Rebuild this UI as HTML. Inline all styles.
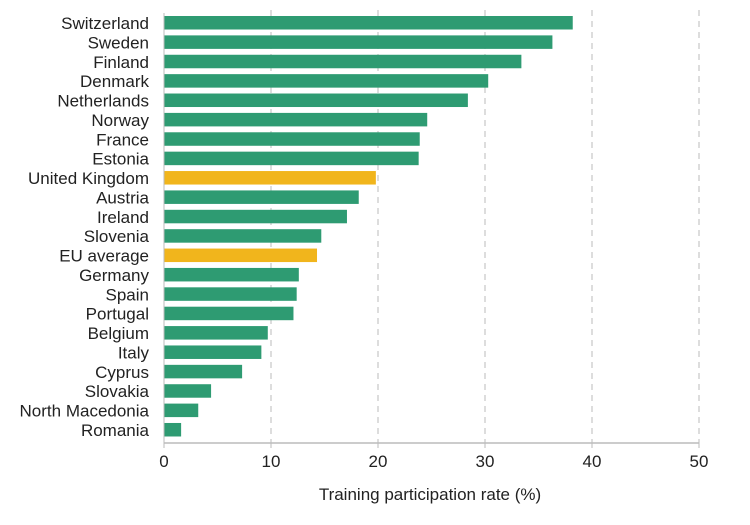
<!DOCTYPE html>
<html><head><meta charset="utf-8"><style>
html,body{margin:0;padding:0;background:#fff;}
svg{display:block;font-family:"Liberation Sans",Arial,sans-serif;}
</style></head><body>
<svg width="750" height="525" viewBox="0 0 750 525" xmlns="http://www.w3.org/2000/svg">
<g stroke="#bbb" stroke-width="1" stroke-dasharray="6,5">
<line x1="271" y1="10" x2="271" y2="443"/>
<line x1="378" y1="10" x2="378" y2="443"/>
<line x1="485" y1="10" x2="485" y2="443"/>
<line x1="592" y1="10" x2="592" y2="443"/>
<line x1="699" y1="10" x2="699" y2="443"/>
</g>
<g id="bars"></g>
<line x1="164" y1="13" x2="164" y2="443" stroke="#bbb" stroke-width="1"/>
<line x1="164" y1="443" x2="699" y2="443" stroke="#bbb" stroke-width="1.5"/>
<g stroke="#bbb"><line x1="164" y1="443" x2="164" y2="448"/><line x1="271" y1="443" x2="271" y2="448"/><line x1="378" y1="443" x2="378" y2="448"/><line x1="485" y1="443" x2="485" y2="448"/><line x1="592" y1="443" x2="592" y2="448"/><line x1="699" y1="443" x2="699" y2="448"/></g>
<g font-size="17" fill="#222" text-anchor="middle">
<text x="164" y="467">0</text><text x="271" y="467">10</text><text x="378" y="467">20</text><text x="485" y="467">30</text><text x="592" y="467">40</text><text x="699" y="467">50</text>
</g>
<text x="430" y="500" font-size="17" fill="#222" text-anchor="middle">Training participation rate (%)</text>
<g id="labels" font-size="17" fill="#222" text-anchor="end"></g>
</svg>
<script>
var d=[["Switzerland",38.2],["Sweden",36.3],["Finland",33.4],["Denmark",30.3],["Netherlands",28.4],["Norway",24.6],["France",23.9],["Estonia",23.8],["United Kingdom",19.8,1],["Austria",18.2],["Ireland",17.1],["Slovenia",14.7],["EU average",14.3,1],["Germany",12.6],["Spain",12.4],["Portugal",12.1],["Belgium",9.7],["Italy",9.1],["Cyprus",7.3],["Slovakia",4.4],["North Macedonia",3.2],["Romania",1.6]];
var ns="http://www.w3.org/2000/svg",b=document.getElementById("bars"),l=document.getElementById("labels");
d.forEach(function(r,i){var y=16+i*19.38;var e=document.createElementNS(ns,"rect");e.setAttribute("x",164);e.setAttribute("y",y);e.setAttribute("width",r[1]*10.7);e.setAttribute("height",13.5);e.setAttribute("fill",r[2]?"#f1b51c":"#2e9b72");b.appendChild(e);
var t=document.createElementNS(ns,"text");t.setAttribute("x",149);t.setAttribute("y",y+13);t.textContent=r[0];l.appendChild(t);});
</script>
</body></html>
